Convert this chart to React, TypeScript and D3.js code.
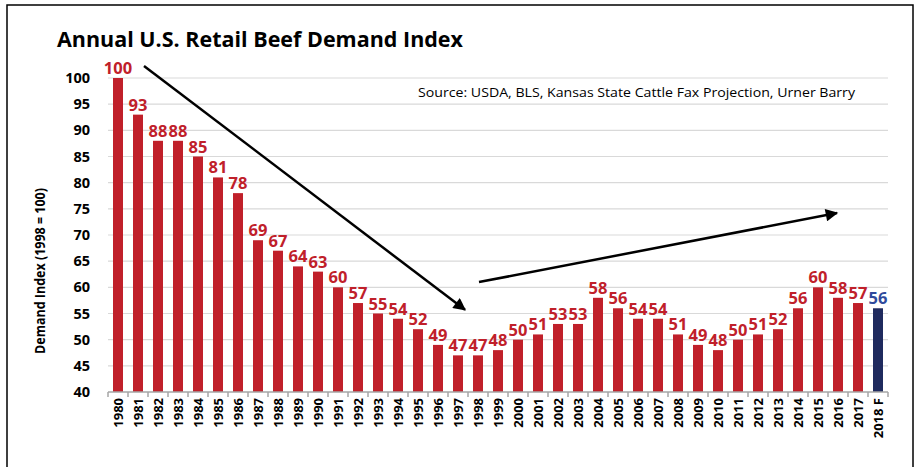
import React from 'react';
import * as d3 from 'd3';

const years = ['1980','1981','1982','1983','1984','1985','1986','1987','1988','1989','1990','1991','1992','1993','1994','1995','1996','1997','1998','1999','2000','2001','2002','2003','2004','2005','2006','2007','2008','2009','2010','2011','2012','2013','2014','2015','2016','2017','2018 F'];
const demandIndex = [100,93,88,88,85,81,78,69,67,64,63,60,57,55,54,52,49,47,47,48,50,51,53,53,58,56,54,54,51,49,48,50,51,52,56,60,58,57,56];
const forecastYears = ['2018 F'];
const yTicks = [40,45,50,55,60,65,70,75,80,85,90,95,100];

// trend arrows in data units: [category position, index value]
const trendArrows = [
  { from: [1.8, 102.3], to: [17.85, 55.7] },
  { from: [18.55, 61.0], to: [36.45, 74.2] },
];

const RED = '#C0202A';
const NAVY = '#1F2A5E';
const FONT = '"Open Sans", Lato, sans-serif';

export default function App() {
  const W = 918, H = 467;
  const margin = { top: 78, right: 30, bottom: 75, left: 108 };
  const plotW = W - margin.left - margin.right;
  const plotH = H - margin.top - margin.bottom;

  const x = d3.scaleBand().domain(years).range([margin.left, margin.left + plotW]).paddingInner(0.5).paddingOuter(0.25);
  const xPos = d3.scaleLinear().domain([0, years.length]).range([margin.left, margin.left + plotW]);
  const y = d3.scaleLinear().domain([40, 100]).range([margin.top + plotH, margin.top]);
  const step = x.step();

  return (
    <svg width={W} height={H} style={{ position: 'absolute', left: 0, top: 0, background: '#fff' }} fontFamily={FONT}>
      <defs>
        <marker id="arr" viewBox="0 0 10 10" refX="9" refY="5" markerWidth="6" markerHeight="5" orient="auto" markerUnits="strokeWidth">
          <path d="M0,0 L10,5 L0,10 z" fill="#000" />
        </marker>
      </defs>
      <rect x={7} y={5} width={906} height={475} fill="none" stroke="#000" strokeWidth={1.5} />

      <text x={57} y={47} fontSize={21} fontWeight={700} fill="#000" textLength={406} lengthAdjust="spacingAndGlyphs">Annual U.S. Retail Beef Demand Index</text>

      {yTicks.slice(1).map(t => (
        <line key={t} x1={margin.left} x2={margin.left + plotW} y1={y(t)} y2={y(t)} stroke="#D9D9D9" strokeWidth={1.2} />
      ))}
      {yTicks.map(t => (
        <text key={t} x={90} y={y(t)} dy="0.35em" textAnchor="end" fontSize={14.5} fontWeight={700} fill="#000">{t}</text>
      ))}

      <rect x={416} y={84} width={445} height={18} fill="#fff" />
      <text x={418} y={97} fontSize={13.5} fill="#000" textLength={437} lengthAdjust="spacingAndGlyphs">Source: USDA, BLS, Kansas State Cattle Fax Projection, Urner Barry</text>

      <text transform={`translate(45,${margin.top + plotH / 2 + 36}) rotate(-90)`} textAnchor="middle" fontSize={14} fontWeight={700} fill="#000" textLength={166} lengthAdjust="spacingAndGlyphs">Demand Index (1998 = 100)</text>

      {years.map((yr, i) => {
        const fc = forecastYears.includes(yr);
        const v = demandIndex[i];
        return (
          <g key={yr}>
            <rect x={x(yr)} y={y(v)} width={x.bandwidth()} height={y(40) - y(v)} fill={fc ? NAVY : RED} />
            <text x={x(yr)! + x.bandwidth() / 2} y={y(v) - 4} textAnchor="middle" fontSize={16.5} fontWeight={700} fill={fc ? '#2F4A9C' : RED}>{v}</text>
          </g>
        );
      })}

      <line x1={margin.left} x2={margin.left + plotW} y1={y(40)} y2={y(40)} stroke="#A6A6A6" strokeWidth={1.5} />
      {d3.range(years.length + 1).map(i => (
        <line key={i} x1={margin.left + i * step} x2={margin.left + i * step} y1={y(40)} y2={y(40) + 5} stroke="#A6A6A6" strokeWidth={1.5} />
      ))}
      {years.map(yr => (
        <text key={yr} transform={`translate(${x(yr)! + x.bandwidth() / 2},${y(40) + 6}) rotate(-90)`} dy="0.36em" textAnchor="end" fontSize={13} fontWeight={700} fill="#000">{yr}</text>
      ))}

      {trendArrows.map((a, i) => (
        <line key={i} x1={xPos(a.from[0])} y1={y(a.from[1])} x2={xPos(a.to[0])} y2={y(a.to[1])} stroke="#000" strokeWidth={2.5} markerEnd="url(#arr)" />
      ))}
    </svg>
  );
}
